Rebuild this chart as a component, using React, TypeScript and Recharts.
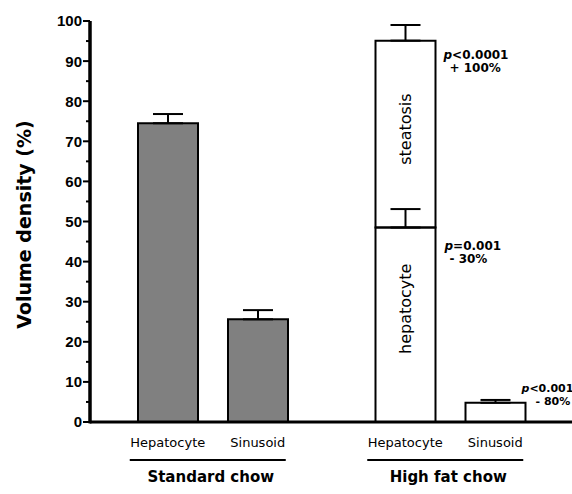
import { BarChart, Bar, XAxis, YAxis, ErrorBar, Cell, LabelList } from "recharts";

const GROUPS = ["Standard chow", "High fat chow"];
const SUB_LABELS = ["Hepatocyte", "Sinusoid"];
const FILLS = ["#808080", "#ffffff"];

const HEPATOCYTE = [74.5, 48.5];
const HEPATOCYTE_SEM = [2.3, 4.6];
const STEATOSIS = [0, 46.6];
const STEATOSIS_SEM = [null, 3.9];
const SINUSOID = [25.6, 4.8];
const SINUSOID_SEM = [2.3, 0.7];

// p-value and change vs standard chow
const HEPATOCYTE_NOTE = [null, ["=0.001", "- 30%"]];
const STEATOSIS_NOTE = [null, ["<0.0001", "+ 100%"]];
const SINUSOID_NOTE = [null, ["<0.001", "- 80%"]];

const HEPATOCYTE_INNER = [null, "hepatocyte"];
const STEATOSIS_INNER = [null, "steatosis"];

const Y_TICKS = [0, 5, 10, 15, 20, 25, 30, 35, 40, 45, 50, 55, 60, 65, 70, 75, 80, 85, 90, 95, 100];

const BAR_SIZE = 60;
const BAR_GAP = 30;
const FONT = "DejaVu Sans, Verdana, sans-serif";

const data = GROUPS.map((group, i) => ({
  group,
  hepatocyte: HEPATOCYTE[i],
  hepErr: [0, HEPATOCYTE_SEM[i]],
  steatosis: STEATOSIS[i],
  steErr: STEATOSIS_SEM[i] == null ? undefined : [0, STEATOSIS_SEM[i]],
  sinusoid: SINUSOID[i],
  sinErr: [0, SINUSOID_SEM[i]],
}));

function YTick({ x, y, payload }: any) {
  const major = payload.value % 10 === 0;
  return (
    <g>
      <line x1={x} x2={x - (major ? 7 : 4)} y1={y} y2={y} stroke="#000" strokeWidth={2} />
      {major && (
        <text
          x={x - 8}
          y={y}
          dy="0.36em"
          textAnchor="end"
          fontFamily="Liberation Sans, Arial, sans-serif"
          fontWeight="bold"
          fontSize={15}
          fill="#000"
        >
          {payload.value}
        </text>
      )}
    </g>
  );
}

function GroupTick({ x, y, payload }: any) {
  const off = (BAR_SIZE + BAR_GAP) / 2;
  return (
    <g>
      {SUB_LABELS.map((s, i) => (
        <text key={s} x={x + (i === 0 ? -off : off)} y={y + 25} textAnchor="middle"
          fontFamily={FONT} fontSize={13} fill="#000">
          {s}
        </text>
      ))}
      <line x1={x - 83} x2={x + 73} y1={y + 38} y2={y + 38} stroke="#000" strokeWidth={2} />
      <text x={x - 2} y={y + 60} textAnchor="middle" fontFamily={FONT}
        fontWeight="bold" fontSize={15} fill="#000">
        {payload.value}
      </text>
    </g>
  );
}

// axis title, plus a heavier axis line along the axis box edge
function YLabel({ viewBox }: any) {
  const cx = viewBox.x - 6;
  const cy = viewBox.y + viewBox.height / 2 + 3;
  const ax = viewBox.x + viewBox.width;
  return (
    <g>
      <line x1={ax} x2={ax} y1={viewBox.y} y2={viewBox.y + viewBox.height + 1.5} stroke="#000" strokeWidth={3} />
      <text x={cx} y={cy} transform={`rotate(-90 ${cx} ${cy})`} textAnchor="middle"
        dominantBaseline="central" fontFamily={FONT} fontWeight="bold" fontSize={19} fill="#000">
        Volume density (%)
      </text>
    </g>
  );
}

const noteLabel = (notes: any[], dx1: number, dx2: number, dy: number, size = 12) => (props: any) => {
  const { x, y, width, value } = props;
  const note = notes[GROUPS.indexOf(value)];
  if (!note) return null;
  const right = x + width;
  return (
    <text fontFamily={FONT} fontWeight="bold" fontSize={size} fill="#000">
      <tspan x={right + dx1} y={y + dy}>
        <tspan fontStyle="italic">p</tspan>
        {note[0]}
      </tspan>
      <tspan x={right + dx2} y={y + dy + 13}>{note[1]}</tspan>
    </text>
  );
};

const innerLabel = (labels: any[], shift: number) => (props: any) => {
  const { x, y, width, height, value } = props;
  const label = labels[GROUPS.indexOf(value)];
  if (!label) return null;
  const cx = x + width / 2;
  const cy = y + height / 2 + shift;
  return (
    <text x={cx} y={cy} transform={`rotate(-90 ${cx} ${cy})`} textAnchor="middle"
      dominantBaseline="central" fontFamily={FONT} fontSize={16} fill="#000">
      {label}
    </text>
  );
};

export default function App() {
  return (
    <div>
      <style>{"body{margin:0}"}</style>
      <BarChart
        width={572}
        height={494}
        data={data}
        barSize={BAR_SIZE}
        barGap={BAR_GAP}
        margin={{ top: 21, right: 0, bottom: 0, left: 30 }}
      >
        <XAxis
          dataKey="group"
          stroke="#000"
          strokeWidth={3}
          axisLine={{ stroke: "#000", strokeWidth: 3 }}
          tickLine={false}
          tickSize={0}
          tickMargin={0}
          height={72}
          padding={{ left: 4, right: 3 }}
          interval={0}
          tick={<GroupTick />}
        />
        <YAxis
          type="number"
          domain={[0, 100]}
          ticks={Y_TICKS}
          interval={0}
          width={60}
          stroke="#000"
          strokeWidth={3}
          axisLine={{ stroke: "#000", strokeWidth: 3 }}
          tickLine={false}
          tickSize={0}
          tickMargin={0}
          tick={<YTick />}
          label={<YLabel />}
        />
        <Bar dataKey="hepatocyte" stackId="a" stroke="#000" strokeWidth={2} isAnimationActive={false}>
          {data.map((_, i) => (
            <Cell key={i} fill={FILLS[i]} />
          ))}
          <ErrorBar dataKey="hepErr" width={15} stroke="#000" strokeWidth={2} direction="y" isAnimationActive={false} />
          <LabelList dataKey="group" content={innerLabel(HEPATOCYTE_INNER, -16)} />
          <LabelList dataKey="group" content={noteLabel(HEPATOCYTE_NOTE, 9, 14, 22)} />
        </Bar>
        <Bar dataKey="steatosis" stackId="a" stroke="#000" strokeWidth={2} fill="none" isAnimationActive={false}>
          <ErrorBar dataKey="steErr" width={15} stroke="#000" strokeWidth={2} direction="y" isAnimationActive={false} />
          <LabelList dataKey="group" content={innerLabel(STEATOSIS_INNER, -5)} />
          <LabelList dataKey="group" content={noteLabel(STEATOSIS_NOTE, 8, 14, 18)} />
        </Bar>
        <Bar dataKey="sinusoid" stackId="b" stroke="#000" strokeWidth={2} isAnimationActive={false}>
          {data.map((_, i) => (
            <Cell key={i} fill={FILLS[i]} />
          ))}
          <ErrorBar dataKey="sinErr" width={15} stroke="#000" strokeWidth={2} direction="y" isAnimationActive={false} />
          <LabelList dataKey="group" content={noteLabel(SINUSOID_NOTE, -4, 10, -11, 11)} />
        </Bar>
      </BarChart>
    </div>
  );
}
